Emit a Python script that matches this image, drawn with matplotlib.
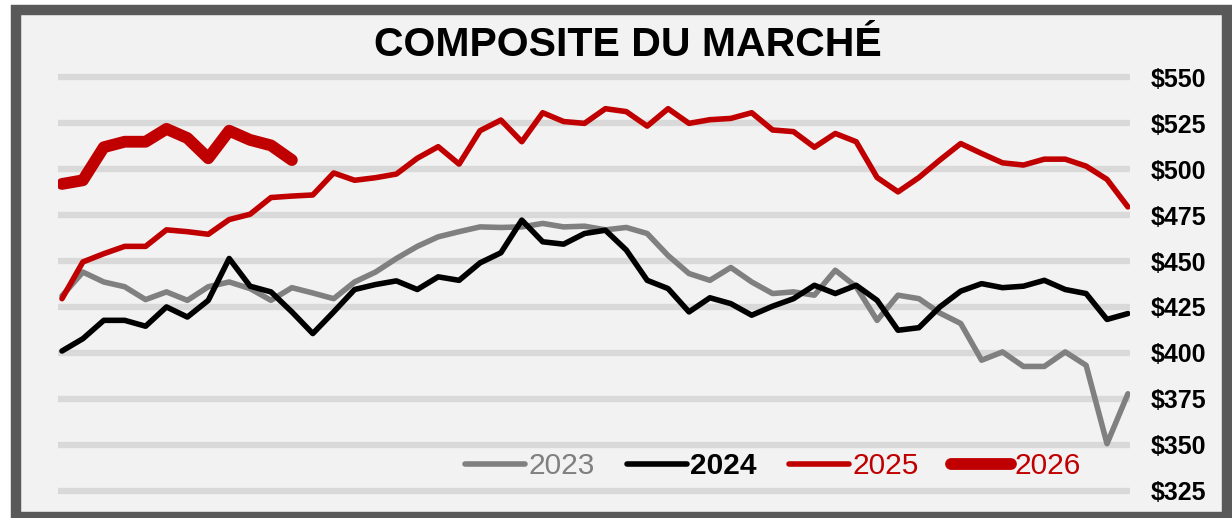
import matplotlib.pyplot as plt
from matplotlib.patches import Rectangle

# weekly values (52 weeks)
weeks = list(range(52))

prix_2023 = [431, 444, 438.6, 436, 429, 433.2, 428.6, 436, 438.6, 435,
             428.6, 435.5, 432.6, 429.5, 438.6, 444, 451.4, 458, 463.2, 466,
             468.6, 468.3, 468.6, 470.5, 468.6, 469, 467, 468.3, 465, 453,
             443.2, 439.5, 446.5, 438.6, 432.3, 433.2, 431.4, 445, 436, 417.7,
             431.4, 429.5, 421.7, 416, 396, 400.5, 392.6, 392.6, 400.5, 393.2,
             350.5, 377.7]

prix_2024 = [401, 407.7, 417.7, 417.7, 414.5, 425, 419.5, 428.6, 451.4, 436.3,
             433.2, 422.3, 410.5, 422.3, 434.5, 437.2, 439.2, 434.5, 441.4, 439.5,
             449, 454.5, 472.3, 460.5, 459.2, 465, 466.8, 456, 439.5, 435,
             422.3, 430, 426.8, 420.5, 425.4, 429.5, 436.8, 432.3, 436.8, 428.6,
             412.3, 413.7, 425, 433.6, 437.7, 435.5, 436.3, 439.5, 434.5, 432.3,
             418.2, 421.4]

prix_2025 = [429.5, 449.5, 454, 458, 458, 467, 466, 464.6, 472.6, 475.5,
             484.6, 485.4, 486, 498, 494, 495.4, 497.4, 506, 512.3, 502.8,
             521, 526.8, 515, 530.8, 526, 525, 533, 531.4, 523.5, 533,
             525, 527, 527.7, 530.8, 521.4, 520.5, 512, 519.5, 515, 495.5,
             487.7, 495.5, 505, 514, 508.6, 503.5, 502.3, 505.5, 505.5, 501.7,
             494.5, 479.5]

prix_2026 = [492, 494, 512, 515, 515, 522, 517, 506, 521, 516, 513, 505]

y_ticks = [325, 350, 375, 400, 425, 450, 475, 500, 525, 550]
y_labels = ['$' + str(v) for v in y_ticks]

W, H = 1232, 518
fig = plt.figure(figsize=(W / 100, H / 100), dpi=100, facecolor='white')
plt.rcParams['font.family'] = ['Liberation Sans', 'DejaVu Sans']

# outer dark frame with light grey fill, kept behind the axes
fig.patches.append(Rectangle((15.5 / W, 1 / H), (1227 - 15.5) / W, (517 - 10) / H,
                             transform=fig.transFigure, facecolor='#f2f2f2',
                             edgecolor='#595959', linewidth=7.5, zorder=-10))

ax = fig.add_axes([57.8 / W, 1 - 499.7 / H, (1130 - 57.8) / W, (499.7 - 68.3) / H])
ax.set_zorder(5)
ax.set_facecolor('none')
ax.set_xlim(-0.2, 51.1)
ax.set_ylim(320, 555)

for v in y_ticks:
    ax.axhline(v, color='#d9d9d9', linewidth=4.6, zorder=1)

ax.plot(weeks, prix_2023, color='#808080', lw=4, label='2023',
        solid_joinstyle='round', solid_capstyle='round', zorder=2)
ax.plot(weeks, prix_2024, color='#000000', lw=4, label='2024',
        solid_joinstyle='round', solid_capstyle='round', zorder=3)
ax.plot(weeks, prix_2025, color='#c00000', lw=4, label='2025',
        solid_joinstyle='round', solid_capstyle='round', zorder=4)
ax.plot(weeks[:len(prix_2026)], prix_2026, color='#c00000', lw=8.5, label='2026',
        solid_joinstyle='round', solid_capstyle='round', zorder=5)

for s in ax.spines.values():
    s.set_visible(False)
ax.set_xticks([])
ax.yaxis.tick_right()
ax.set_yticks(y_ticks)
ax.set_yticklabels(y_labels, fontsize=18, fontweight='bold')
ax.tick_params(axis='y', length=0, pad=15)

leg = ax.legend(loc='center', bbox_to_anchor=(0.667, 0.078), ncol=4, frameon=False,
                fontsize=21.5, handlelength=2.0, handletextpad=0.1,
                columnspacing=1.1, labelcolor='linecolor')
leg.get_texts()[1].set_fontweight('bold')

fig.text(628 / W, 1 - 45 / H, 'COMPOSITE DU MARCHÉ', ha='center', va='center',
         fontsize=29.5, fontweight='bold', color='black')

fig.savefig('out.png', dpi=100, facecolor='white')
